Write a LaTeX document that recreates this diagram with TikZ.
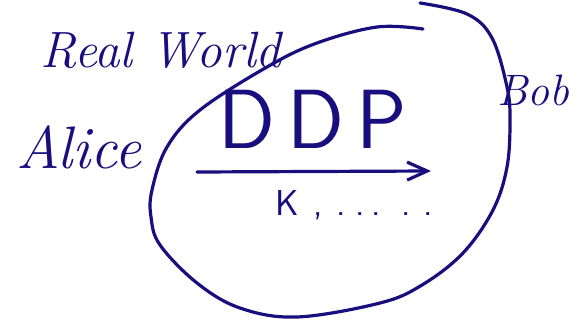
\documentclass[tikz,border=0pt]{standalone}
\usepackage{fontspec}
\usetikzlibrary{arrows.meta}
\definecolor{ink}{RGB}{24,14,125}
\tikzset{
  pen/.style={draw=ink, line width=3.2pt, line cap=round, line join=round},
  hand/.style={text=ink, inner sep=0pt, anchor=base west, font=\itshape},
}
\begin{document}
\begin{tikzpicture}[x=1pt,y=-1pt]
\useasboundingbox (0,0) rectangle (581,329);
% labels
\node[hand, font=\itshape\fontsize{51}{53}\selectfont] (real) at (40,68) {Real World};
\node[hand, font=\itshape\fontsize{60}{62}\selectfont] (alice) at (16,168) {Alice};
\node[hand, font=\itshape\fontsize{44}{46}\selectfont] (bob) at (497,105) {Bob};
\node[hand, font=\sffamily\fontsize{84}{86}\selectfont] (ddp) at (218,148) {D\hspace{12pt}D\hspace{12pt}P};
\node[hand, font=\sffamily\fontsize{36}{38}\selectfont] (k) at (275,215) {K\hspace{15pt},\hspace{13pt}.\hspace{10pt}.\hspace{7pt}.\hspace{20pt}.\hspace{13pt}.};
% the loop
\draw[pen] plot[smooth, tension=0.6] coordinates {
 (423,29) (377,27) (317,43) (267,67) (200,110) (167,147) (152,190) (151,217)
 (160,245) (197,283) (240,308) (297,317) (380,303) (422,285) (463,253) (493,210)
 (507,167) (510,120) (507,87) (492,38) (467,14) (420,3)};
% arrow
\coordinate (arrS) at (197,172);
\coordinate (arrE) at (431,171);
\draw[pen, -{Straight Barb[length=20pt,width=18pt,line width=3.2pt]}] (arrS) -- (arrE);
\end{tikzpicture}
\end{document}
